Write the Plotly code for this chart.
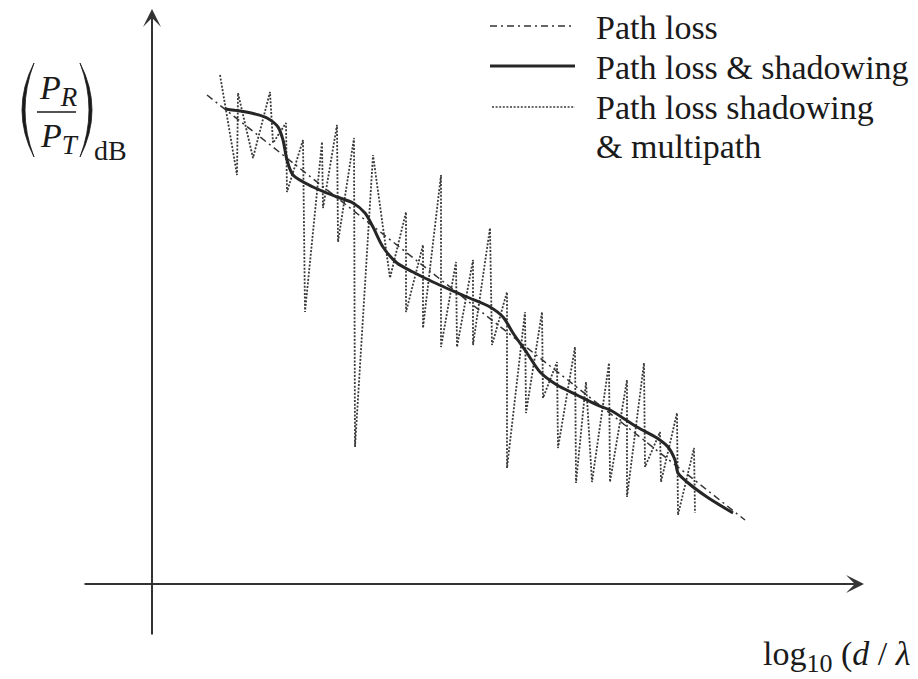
import plotly.graph_objects as go

W, H = 918, 679
OFF = 8  # page body margin in the browser: shift the drawing back onto the reference grid

# ---- data (x: log10(d/lambda) arbitrary units, y: received power ratio dB, arbitrary units)
pathloss_x = [0.55, 5.93]
pathloss_y = [4.89, 0.64]

shadow_x = [0.73, 0.88, 1.03, 1.15, 1.26, 1.31, 1.35, 1.41, 1.61, 1.85, 2.01, 2.13,
            2.21, 2.31, 2.45, 2.61, 2.81, 3.15, 3.38, 3.51, 3.61, 3.75, 3.88, 4.05,
            4.25, 4.45, 4.58, 4.85, 5.05, 5.16, 5.23, 5.26, 5.35, 5.55, 5.81]
shadow_y = [4.75, 4.73, 4.70, 4.66, 4.57, 4.44, 4.24, 4.09, 3.97, 3.87, 3.81, 3.71,
            3.57, 3.37, 3.21, 3.12, 3.02, 2.87, 2.77, 2.67, 2.51, 2.31, 2.12, 1.99,
            1.89, 1.79, 1.74, 1.57, 1.46, 1.37, 1.24, 1.11, 1.02, 0.87, 0.71]

multi_x = [0.68, 0.85, 0.86, 1.01, 1.18, 1.21, 1.34, 1.35, 1.51, 1.53, 1.70, 1.71,
           1.85, 1.86, 2.02, 2.03, 2.21, 2.38, 2.54, 2.54, 2.71, 2.71, 2.89, 2.89,
           3.04, 3.05, 3.21, 3.21, 3.38, 3.40, 3.55, 3.55, 3.73, 3.74, 3.90, 3.91,
           4.05, 4.06, 4.23, 4.24, 4.34, 4.40, 4.57, 4.58, 4.75, 4.75, 4.92, 4.93,
           5.08, 5.09, 5.25, 5.26, 5.42, 5.43]
multi_y = [5.09, 4.09, 4.91, 4.26, 4.92, 4.41, 4.61, 3.92, 4.44, 2.72, 4.42, 3.76,
           4.59, 3.42, 4.46, 1.37, 4.29, 3.06, 3.72, 2.72, 3.39, 2.56, 4.09, 2.37,
           3.22, 2.37, 3.24, 2.39, 3.56, 2.39, 2.92, 1.16, 2.72, 1.71, 2.72, 1.86,
           2.22, 1.36, 2.37, 1.01, 2.02, 1.02, 2.21, 1.02, 2.04, 0.87, 2.21, 1.17,
           1.52, 1.02, 1.71, 0.69, 1.36, 0.71]

legend_labels = ["Path loss", "Path loss & shadowing", "Path loss shadowing", "& multipath"]

SERIF = "Liberation Serif, Times New Roman, serif"
TXT = "#1a1a1a"
DOT = "#3a3a3a"


def px(x):
    return (x - OFF) / W


def py(y):
    return 1 - (y - OFF) / H


fig = go.Figure()

fig.add_trace(go.Scatter(x=multi_x, y=multi_y, mode="lines",
                         line=dict(color=DOT, width=1.8, dash="2px,1.6px"),
                         showlegend=False, hoverinfo="skip"))
fig.add_trace(go.Scatter(x=pathloss_x, y=pathloss_y, mode="lines",
                         line=dict(color="#333333", width=1.5, dash="7px,4px,2px,4px"),
                         showlegend=False, hoverinfo="skip"))
fig.add_trace(go.Scatter(x=shadow_x, y=shadow_y, mode="lines",
                         line=dict(color="#262626", width=3, shape="spline", smoothing=0.8),
                         showlegend=False, hoverinfo="skip"))

annotations = []
shapes = []

# axes with arrows
annotations.append(dict(x=px(864), y=py(584), ax=83 - 864, ay=0, xref="paper", yref="paper",
                        axref="pixel", ayref="pixel", text="", showarrow=True,
                        arrowhead=3, arrowsize=1.5, arrowwidth=2, arrowcolor="#333333", standoff=0))
annotations.append(dict(x=px(152), y=py(8), ax=0, ay=636 - 8, xref="paper", yref="paper",
                        axref="pixel", ayref="pixel", text="", showarrow=True,
                        arrowhead=3, arrowsize=1.5, arrowwidth=2, arrowcolor="#333333", standoff=0))

# legend (hand drawn like the reference)
leg_y = [27, 67, 107, 147]
line_y = [26, 66, 107]
shapes.append(dict(type="line", xref="paper", yref="paper", x0=px(490), x1=px(575), y0=py(line_y[0]), y1=py(line_y[0]),
                   line=dict(color="#333333", width=1.5, dash="7px,4px,2px,4px")))
shapes.append(dict(type="line", xref="paper", yref="paper", x0=px(490), x1=px(575), y0=py(line_y[1]), y1=py(line_y[1]),
                   line=dict(color="#262626", width=3)))
shapes.append(dict(type="line", xref="paper", yref="paper", x0=px(492), x1=px(575), y0=py(line_y[2]), y1=py(line_y[2]),
                   line=dict(color=DOT, width=1.6, dash="2px,1.6px")))
for lab, yy in zip(legend_labels, leg_y):
    annotations.append(dict(x=px(594), y=py(yy), xref="paper", yref="paper", text=lab,
                            showarrow=False, xanchor="left", yanchor="middle",
                            font=dict(family=SERIF, size=34, color=TXT)))

# y label: (P_R / P_T)_dB
SUB = '<span style="font-size:27px">'
annotations.append(dict(x=px(58), y=py(90), xref="paper", yref="paper",
                        text="<i>P</i><sub>" + SUB + "<i>R</i></span></sub>", showarrow=False,
                        xanchor="center", yanchor="middle",
                        font=dict(family=SERIF, size=34, color=TXT)))
annotations.append(dict(x=px(59), y=py(138), xref="paper", yref="paper",
                        text="<i>P</i><sub>" + SUB + "<i>T</i></span></sub>", showarrow=False,
                        xanchor="center", yanchor="middle",
                        font=dict(family=SERIF, size=34, color=TXT)))
annotations.append(dict(x=px(92), y=py(150), xref="paper", yref="paper",
                        text="dB", showarrow=False, xanchor="left", yanchor="middle",
                        font=dict(family=SERIF, size=28, color=TXT)))
shapes.append(dict(type="line", xref="paper", yref="paper", x0=px(37), x1=px(76), y0=py(112), y1=py(112),
                   line=dict(color=TXT, width=1.5)))


def paren(x_end, c_out, c_in, y0=63, y1=157):
    ym = (y0 + y1) / 2
    return (f"M {px(x_end)},{py(y0)} Q {px(c_out)},{py(ym)} {px(x_end)},{py(y1)} "
            f"Q {px(c_in)},{py(ym)} {px(x_end)},{py(y0)} Z")


shapes.append(dict(type="path", xref="paper", yref="paper", path=paren(34, 10, 16),
                   fillcolor=TXT, line=dict(color=TXT, width=0.8)))
shapes.append(dict(type="path", xref="paper", yref="paper", path=paren(80, 104, 98),
                   fillcolor=TXT, line=dict(color=TXT, width=0.8)))

# x label (runs off the right edge, as in the reference)
annotations.append(dict(x=px(761), y=py(656), xref="paper", yref="paper",
                        text="log<sub>" + '<span style="font-size:26px">10</span>'
                             + "</sub> (<i>d</i> / <i>λ</i>)",
                        showarrow=False, xanchor="left", yanchor="middle",
                        font=dict(family=SERIF, size=34, color=TXT)))

# data range: reference pixel p -> data value, with the figure origin at the body offset
x_lo, x_hi = (OFF - 152) / 100, (OFF + W - 152) / 100
y_hi, y_lo = (584 - OFF) / 100, (584 - OFF - H) / 100

fig.update_layout(
    width=W, height=H,
    margin=dict(l=0, r=0, t=0, b=0),
    paper_bgcolor="white", plot_bgcolor="white",
    xaxis=dict(range=[x_lo, x_hi], visible=False, fixedrange=True),
    yaxis=dict(range=[y_lo, y_hi], visible=False, fixedrange=True),
    annotations=annotations, shapes=shapes,
    showlegend=False,
)

fig.write_html("out.html")
